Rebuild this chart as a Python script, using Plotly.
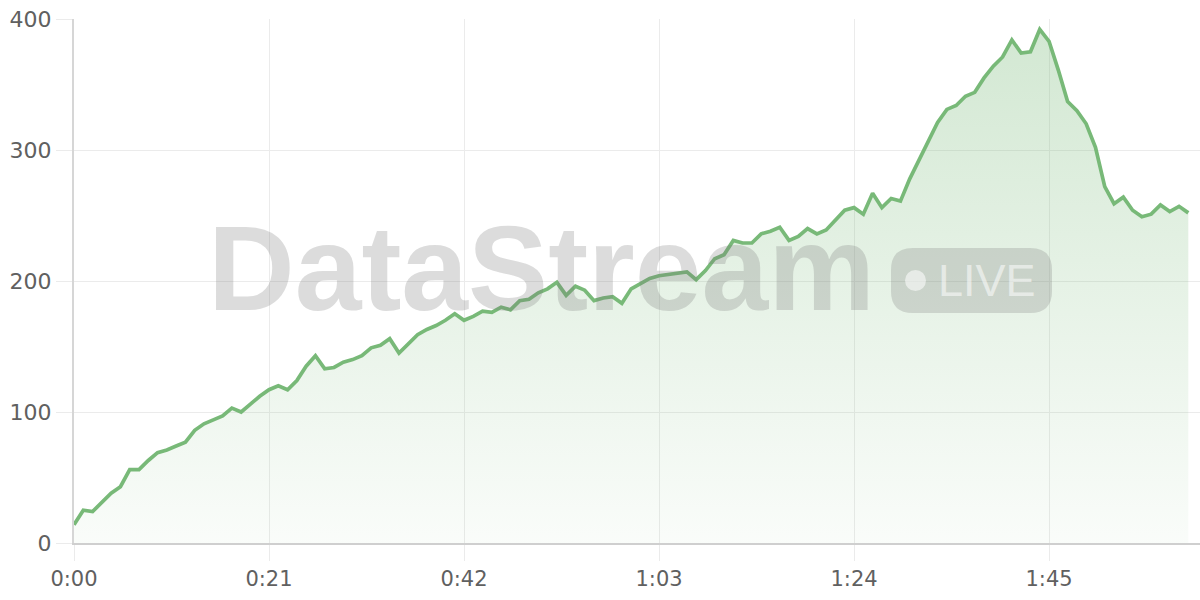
import plotly.graph_objects as go

# ---- data ----
seconds = list(range(0, 121))
values = [
    14, 25, 24, 31, 38, 43, 56, 56, 63, 69, 71, 74, 77, 86, 91, 94, 97, 103, 100, 106,
    112, 117, 120, 117, 124, 135, 143, 133, 134, 138, 140, 143, 149, 151, 156, 145, 152, 159, 163, 166,
    170, 175, 170, 173, 177, 176, 180, 178, 185, 186, 191, 194, 199, 189, 196, 193, 185, 187, 188, 183,
    194, 198, 202, 204, 205, 206, 207, 201, 208, 217, 220, 231, 229, 229, 236, 238, 241, 231, 234, 240,
    236, 239, 246, 254, 256, 251, 267, 256, 263, 261, 278, 292, 307, 321, 331, 334, 341, 344, 355, 364,
    371, 384, 374, 375, 392, 383, 361, 337, 330, 320, 302, 272, 259, 264, 254, 249, 251, 258, 253, 257,
    252,
]
x_tick_vals = [0, 21, 42, 63, 84, 105]
x_tick_text = ["0:00", "0:21", "0:42", "1:03", "1:24", "1:45"]
y_tick_vals = [0, 100, 200, 300, 400]
watermark_text = "DataStream"
badge_text = "LIVE"

# ---- layout geometry (pixels) ----
W, H = 1200, 600
L, R, T, B = 74, 0, 19, 57
PW, PH = W - L - R, H - T - B


def px(xp):
    return (xp - L) / PW


def py(yp):
    return (H - B - yp) / PH


def rounded_rect(x0, y0, x1, y1, r):
    pts = []
    pts.append(f"M {px(x0 + r)} {py(y0)}")
    pts.append(f"L {px(x1 - r)} {py(y0)}")
    pts.append(f"Q {px(x1)} {py(y0)} {px(x1)} {py(y0 + r)}")
    pts.append(f"L {px(x1)} {py(y1 - r)}")
    pts.append(f"Q {px(x1)} {py(y1)} {px(x1 - r)} {py(y1)}")
    pts.append(f"L {px(x0 + r)} {py(y1)}")
    pts.append(f"Q {px(x0)} {py(y1)} {px(x0)} {py(y1 - r)}")
    pts.append(f"L {px(x0)} {py(y0 + r)}")
    pts.append(f"Q {px(x0)} {py(y0)} {px(x0 + r)} {py(y0)}")
    pts.append("Z")
    return " ".join(pts)


green = "#78b978"

fig = go.Figure()
fig.add_trace(
    go.Scatter(
        x=seconds,
        y=values,
        mode="lines",
        line=dict(color=green, width=3.7),
        fill="tozeroy",
        fillgradient=dict(
            type="vertical",
            colorscale=[[0, "rgba(120,185,120,0.04)"], [1, "rgba(120,185,120,0.33)"]],
        ),
        hoverinfo="skip",
    )
)

axis_font = dict(family="DejaVu Sans", size=21, color="#606060")

fig.update_layout(
    width=W,
    height=H,
    margin=dict(l=L, r=R, t=T, b=B, pad=0),
    paper_bgcolor="white",
    plot_bgcolor="white",
    showlegend=False,
    xaxis=dict(
        range=[0, PW / 9.286],
        tickvals=x_tick_vals,
        ticktext=x_tick_text,
        showgrid=True,
        gridcolor="#ebebeb",
        gridwidth=1,
        ticks="outside",
        ticklen=16,
        tickcolor="#ebebeb",
        tickfont=axis_font,
        showline=True,
        linecolor="#cfcfcf",
        linewidth=2,
        zeroline=False,
        fixedrange=True,
    ),
    yaxis=dict(
        range=[0, 400],
        tickvals=y_tick_vals,
        showgrid=True,
        gridcolor="#ebebeb",
        gridwidth=1,
        ticks="outside",
        ticklen=16,
        tickcolor="#ebebeb",
        tickfont=dict(family="DejaVu Sans", size=22, color="#606060"),
        showline=True,
        linecolor="#d6d6d6",
        linewidth=2,
        zeroline=False,
        fixedrange=True,
    ),
)

# watermark
fig.add_annotation(
    text=f"<b>{watermark_text}</b>",
    xref="paper",
    yref="paper",
    x=px(206),
    y=py(268),
    xanchor="left",
    yanchor="middle",
    showarrow=False,
    font=dict(family="Liberation Sans", size=120, color="rgba(120,120,120,0.26)"),
)
fig.add_shape(
    type="path",
    xref="paper",
    yref="paper",
    path=rounded_rect(891, 248, 1052, 313, 22),
    fillcolor="rgba(120,120,120,0.25)",
    line=dict(width=0),
    layer="above",
)
fig.add_shape(
    type="circle",
    xref="paper",
    yref="paper",
    x0=px(905),
    x1=px(926),
    y0=py(291),
    y1=py(270),
    fillcolor="rgba(255,255,255,0.55)",
    line=dict(width=0),
    layer="above",
)
fig.add_annotation(
    text=badge_text,
    xref="paper",
    yref="paper",
    x=px(936),
    y=py(280),
    xanchor="left",
    yanchor="middle",
    showarrow=False,
    font=dict(family="Liberation Sans", size=45, color="rgba(255,255,255,0.55)"),
)

fig.write_html(
    "out.html",
    config={"displayModeBar": False},
    post_script="document.body.style.margin='0';document.body.style.padding='0';",
)
